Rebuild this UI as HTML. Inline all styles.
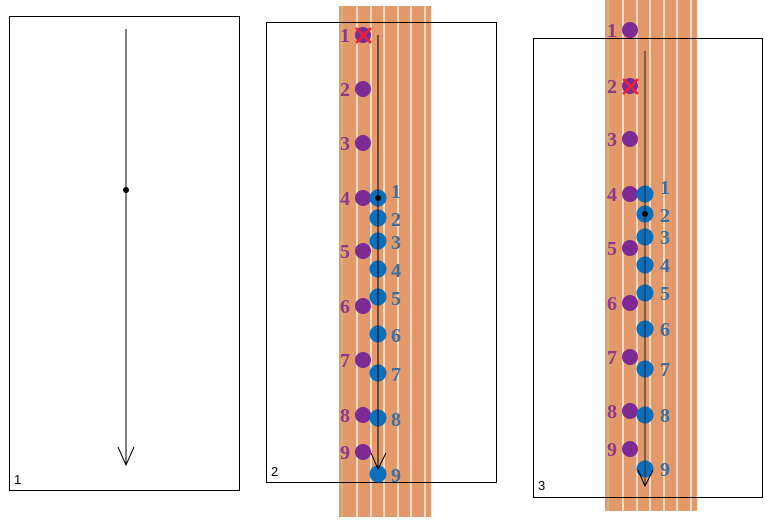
<!DOCTYPE html>
<html><head><meta charset="utf-8"><style>body{margin:0;background:#fff}svg{display:block}</style></head>
<body>
<svg width="780" height="523" viewBox="0 0 780 523" xmlns="http://www.w3.org/2000/svg">
<defs>
<g id="strip">
<rect x="0" y="0" width="92" height="511" fill="#E3996A"/>
<rect x="2" y="0" width="2" height="511" fill="#C9B87A"/>
<rect x="17" y="0" width="2" height="511" fill="#F6DCC4"/>
<rect x="31" y="0" width="2" height="511" fill="#F6DCC4"/>
<rect x="44" y="0" width="2" height="511" fill="#F6DCC4"/>
<rect x="58" y="0" width="2" height="511" fill="#F6DCC4"/>
<rect x="71" y="0" width="2" height="511" fill="#F6DCC4"/>
<rect x="85" y="0" width="2" height="511" fill="#F6DCC4"/>
</g>
</defs>
<!-- Panel 1 -->
<rect x="9.5" y="16.5" width="230" height="474" fill="none" stroke="#000"/>
<line x1="126" y1="29" x2="126" y2="465" stroke="#000"/>
<circle cx="126" cy="190" r="3" fill="#000"/>
<polyline points="118,447 126,465 134,447" fill="none" stroke="#000"/>
<text x="14" y="484" font-family="Liberation Sans,sans-serif" font-size="13">1</text>

<!-- Panel 2 -->
<use href="#strip" x="339" y="6"/>
<rect x="266.5" y="22.5" width="230" height="460" fill="none" stroke="#000"/>
<g font-family="Liberation Serif,serif" font-weight="bold" font-size="20" fill="#8B3A8B">
<text x="340" y="42">1</text><text x="340" y="96">2</text><text x="340" y="150">3</text><text x="340" y="205">4</text><text x="340" y="258">5</text><text x="340" y="313">6</text><text x="340" y="367">7</text><text x="340" y="422">8</text><text x="340" y="459">9</text>
</g>
<g fill="#7D2A95">
<circle cx="363" cy="35" r="8"/><circle cx="363" cy="89" r="8"/><circle cx="363" cy="143" r="8"/><circle cx="363" cy="198" r="8"/><circle cx="363" cy="251" r="8"/><circle cx="363" cy="306" r="8"/><circle cx="363" cy="360" r="8"/><circle cx="363" cy="415" r="8"/><circle cx="363" cy="452" r="8"/>
</g>
<g stroke="#F02030" stroke-width="2.5"><line x1="356" y1="28" x2="371" y2="43"/><line x1="371" y1="28" x2="356" y2="43"/></g>
<g fill="#0A70BE">
<circle cx="378" cy="198" r="8.5"/><circle cx="378" cy="218" r="8.5"/><circle cx="378" cy="241" r="8.5"/><circle cx="378" cy="269" r="8.5"/><circle cx="378" cy="297" r="8.5"/><circle cx="378" cy="334" r="8.5"/><circle cx="378" cy="373" r="8.5"/><circle cx="378" cy="418" r="8.5"/><circle cx="378" cy="474" r="8.5"/>
</g>
<g font-family="Liberation Serif,serif" font-weight="bold" font-size="20" fill="#3A6FA0">
<text x="391" y="198">1</text><text x="391" y="226">2</text><text x="391" y="249">3</text><text x="391" y="277">4</text><text x="391" y="305">5</text><text x="391" y="342">6</text><text x="391" y="381">7</text><text x="391" y="426">8</text><text x="391" y="482">9</text>
</g>
<line x1="378" y1="35" x2="378" y2="469" stroke="#000"/>
<circle cx="378" cy="198" r="3" fill="#000"/>
<polyline points="371,453 378,469 386,453" fill="none" stroke="#000"/>
<text x="271" y="476" font-family="Liberation Sans,sans-serif" font-size="13">2</text>

<!-- Panel 3 -->
<use href="#strip" x="605" y="0"/>
<rect x="533.5" y="38.5" width="229" height="459" fill="none" stroke="#000"/>
<g font-family="Liberation Serif,serif" font-weight="bold" font-size="20" fill="#8B3A8B">
<text x="607" y="37">1</text><text x="607" y="93">2</text><text x="607" y="146">3</text><text x="607" y="201">4</text><text x="607" y="255">5</text><text x="607" y="310">6</text><text x="607" y="364">7</text><text x="607" y="418">8</text><text x="607" y="456">9</text>
</g>
<g fill="#7D2A95">
<circle cx="630" cy="30" r="8"/><circle cx="630" cy="86" r="8"/><circle cx="630" cy="139" r="8"/><circle cx="630" cy="194" r="8"/><circle cx="630" cy="248" r="8"/><circle cx="630" cy="303" r="8"/><circle cx="630" cy="357" r="8"/><circle cx="630" cy="411" r="8"/><circle cx="630" cy="449" r="8"/>
</g>
<g stroke="#F02030" stroke-width="2.5"><line x1="623" y1="79" x2="638" y2="94"/><line x1="638" y1="79" x2="623" y2="94"/></g>
<g fill="#0A70BE">
<circle cx="645" cy="194" r="8.5"/><circle cx="645" cy="214" r="8.5"/><circle cx="645" cy="237" r="8.5"/><circle cx="645" cy="265" r="8.5"/><circle cx="645" cy="293" r="8.5"/><circle cx="645" cy="329" r="8.5"/><circle cx="645" cy="369" r="8.5"/><circle cx="645" cy="415" r="8.5"/><circle cx="645" cy="469" r="8.5"/>
</g>
<g font-family="Liberation Serif,serif" font-weight="bold" font-size="20" fill="#3A6FA0">
<text x="660" y="194">1</text><text x="660" y="222">2</text><text x="660" y="244">3</text><text x="660" y="272">4</text><text x="660" y="300">5</text><text x="660" y="336">6</text><text x="660" y="376">7</text><text x="660" y="422">8</text><text x="660" y="476">9</text>
</g>
<line x1="645" y1="51" x2="645" y2="486" stroke="#222"/>
<circle cx="645" cy="214" r="3" fill="#000"/>
<polyline points="638,470 645,486 653,470" fill="none" stroke="#000"/>
<text x="538" y="490" font-family="Liberation Sans,sans-serif" font-size="13">3</text>
</svg>
</body></html>
